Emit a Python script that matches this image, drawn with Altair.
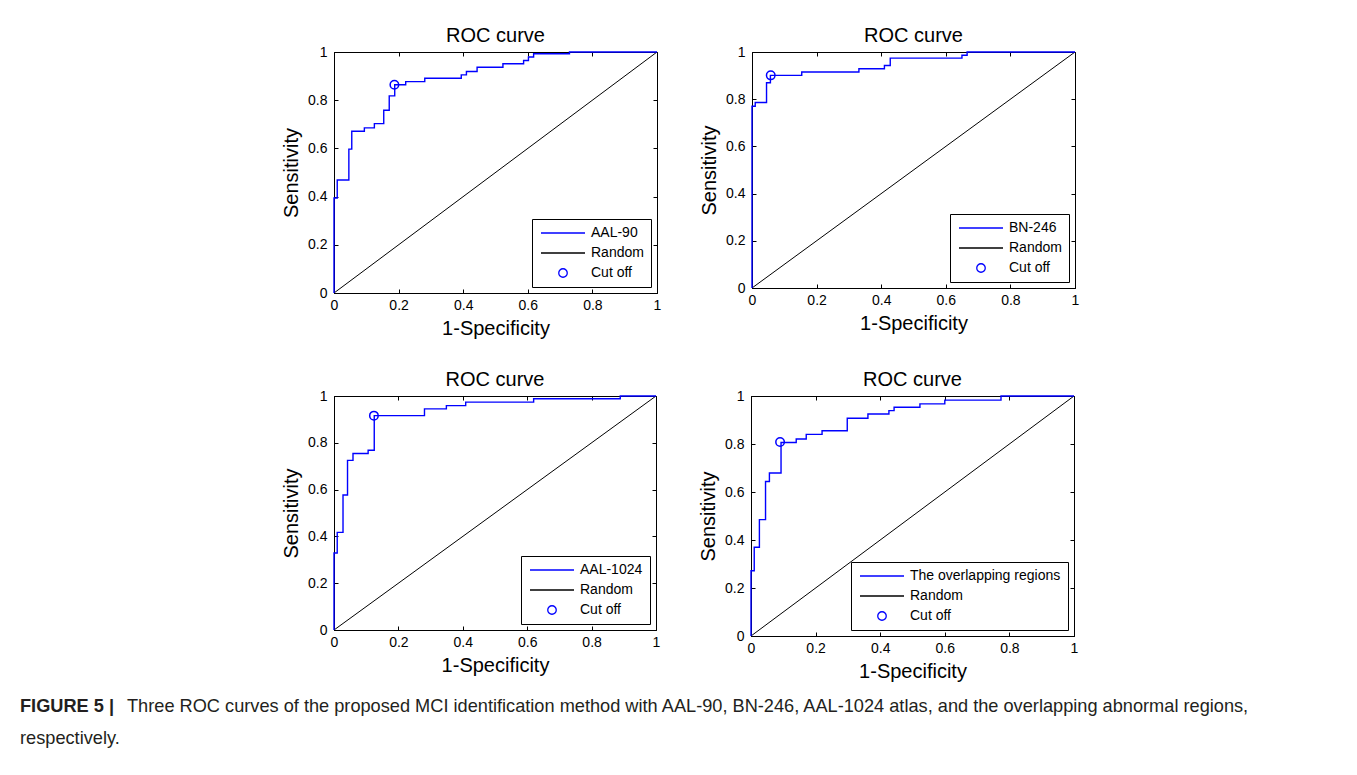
import altair as alt
import pandas as pd

# ---------------- data ----------------
TICKS = [0, 0.2, 0.4, 0.6, 0.8, 1]
RANDOM_X = [0, 1]
RANDOM_Y = [0, 1]
LEGEND_OTHER = ["Random", "Cut off"]
PANEL_TITLE = "ROC curve"
X_TITLE = "1-Specificity"
Y_TITLE = "Sensitivity"

AAL90_NAME = "AAL-90"
AAL90_FPR = [0, 0, 0.010, 0.046, 0.055, 0.094, 0.125, 0.154, 0.171, 0.188, 0.222,
             0.281, 0.394, 0.410, 0.443, 0.523, 0.587, 0.602, 0.618, 0.729, 1.0]
AAL90_TPR = [0, 0.394, 0.469, 0.597, 0.671, 0.685, 0.703, 0.758, 0.818, 0.864, 0.877,
             0.891, 0.905, 0.919, 0.937, 0.951, 0.965, 0.979, 0.993, 1.0, 1.0]
AAL90_CUT = [0.187, 0.864]

BN246_NAME = "BN-246"
BN246_FPR = [0, 0, 0.010, 0.045, 0.057, 0.154, 0.331, 0.410, 0.428, 0.650, 0.666, 1.0]
BN246_TPR = [0, 0.770, 0.786, 0.870, 0.901, 0.915, 0.929, 0.943, 0.974, 0.986, 1.0, 1.0]
BN246_CUT = [0.058, 0.901]

AAL1024_NAME = "AAL-1024"
AAL1024_FPR = [0, 0, 0.010, 0.028, 0.042, 0.059, 0.106, 0.125, 0.281, 0.349, 0.409,
               0.620, 0.889, 1.0]
AAL1024_TPR = [0, 0.329, 0.417, 0.577, 0.725, 0.754, 0.768, 0.916, 0.945, 0.959, 0.974,
               0.988, 1.0, 1.0]
AAL1024_CUT = [0.124, 0.916]

OVER_NAME = "The overlapping regions"
OVER_FPR = [0, 0, 0.010, 0.026, 0.045, 0.057, 0.093, 0.140, 0.171, 0.220, 0.298, 0.362,
            0.427, 0.443, 0.523, 0.600, 0.774, 1.0]
OVER_TPR = [0, 0.272, 0.370, 0.485, 0.644, 0.679, 0.806, 0.821, 0.840, 0.855, 0.907, 0.925,
            0.939, 0.953, 0.967, 0.983, 1.0, 1.0]
OVER_CUT = [0.090, 0.808]

CAPTION_BOLD = "FIGURE 5 |"
CAPTION_LINE1 = ("Three ROC curves of the proposed MCI identification method with AAL-90, "
                 "BN-246, AAL-1024 atlas, and the overlapping abnormal regions,")
CAPTION_LINE2 = "respectively."

# ---------------- style ----------------
FONT = "Liberation Sans, Arial, Helvetica, sans-serif"
BLUE = "#0000ff"
SYM = 100  # symbol scale factor 5 px per unit
LINE_SYM = "M-4.4,0L4.4,0"  # 44 px legend line sample
CIRCLE = "M-0.85,0A0.85,0.85,0,1,0,0.85,0A0.85,0.85,0,1,0,-0.85,0Z"  # ~8.5 px circle


def panel(name, fpr, tpr, cut, w, h):
    domain = [name] + LEGEND_OTHER
    color = alt.Color("series:N",
                      scale=alt.Scale(domain=domain, range=[BLUE, "black", BLUE]),
                      title=None)
    shape = alt.Shape("series:N",
                      scale=alt.Scale(domain=domain, range=[LINE_SYM, LINE_SYM, CIRCLE]),
                      title=None)
    x = alt.X("x:Q", scale=alt.Scale(domain=[0, 1], nice=False, zero=False),
              title=X_TITLE,
              axis=alt.Axis(values=TICKS, format=".1~f", gridDash=[4, h - 8],
                            labelPadding=5))
    y = alt.Y("y:Q", scale=alt.Scale(domain=[0, 1], nice=False, zero=False),
              title=Y_TITLE,
              axis=alt.Axis(values=TICKS, format=".1~f", gridDash=[4, w - 8],
                            labelPadding=7))

    curve_df = pd.DataFrame({"x": fpr, "y": tpr, "i": list(range(len(fpr)))})
    curve_df["series"] = name
    rand_df = pd.DataFrame({"x": RANDOM_X, "y": RANDOM_Y, "i": [0, 1]})
    rand_df["series"] = LEGEND_OTHER[0]
    cut_df = pd.DataFrame({"x": [cut[0]], "y": [cut[1]], "series": [LEGEND_OTHER[1]]})

    rnd = alt.Chart(rand_df).mark_line(strokeWidth=1).encode(
        x=x, y=y, color=color, order="i:Q")
    crv = alt.Chart(curve_df).mark_line(interpolate="step-after", strokeWidth=1.4).encode(
        x=x, y=y, color=color, order="i:Q")
    pt = alt.Chart(cut_df).mark_point(filled=False, size=SYM, strokeWidth=1.5,
                                      opacity=1).encode(
        x=x, y=y, color=color, shape=shape)
    return alt.layer(rnd, crv, pt).properties(
        width=w, height=h,
        title=alt.TitleParams(PANEL_TITLE, anchor="middle"))


def spacer(w):
    df = pd.DataFrame({"t": [""]})
    return alt.Chart(df).mark_text(opacity=0).encode(
        text="t:N", x=alt.value(0), y=alt.value(0)).properties(
        width=w, height=20, view=alt.ViewBackground(strokeOpacity=0))


def indep(c):
    return c.resolve_scale(color="independent", shape="independent").resolve_legend(
        color="independent", shape="independent")


p1 = panel(AAL90_NAME, AAL90_FPR, AAL90_TPR, AAL90_CUT, 323, 241)
p2 = panel(BN246_NAME, BN246_FPR, BN246_TPR, BN246_CUT, 323, 236)
p3 = panel(AAL1024_NAME, AAL1024_FPR, AAL1024_TPR, AAL1024_CUT, 322, 234)
p4 = panel(OVER_NAME, OVER_FPR, OVER_TPR, OVER_CUT, 323, 240)

row1 = indep(alt.hconcat(spacer(236), p1, p2, spacing=37))
row2 = indep(alt.hconcat(spacer(236), p3, p4, spacing=37))

cap_df = pd.DataFrame({"bold": [CAPTION_BOLD], "l1": [CAPTION_LINE1], "l2": [CAPTION_LINE2]})
cap_base = alt.Chart(cap_df)
CAP_SIZE = 18.2
cap = alt.layer(
    cap_base.mark_text(align="left", baseline="middle", fontSize=CAP_SIZE, font=FONT,
                       fontWeight="bold", color="#231f20").encode(
        text="bold:N", x=alt.value(12), y=alt.value(10)),
    cap_base.mark_text(align="left", baseline="middle", fontSize=CAP_SIZE, font=FONT,
                       color="#231f20").encode(
        text="l1:N", x=alt.value(119), y=alt.value(10)),
    cap_base.mark_text(align="left", baseline="middle", fontSize=CAP_SIZE, font=FONT,
                       color="#231f20").encode(
        text="l2:N", x=alt.value(12), y=alt.value(42)),
).properties(width=1338, height=55, view=alt.ViewBackground(strokeOpacity=0))

plots = indep(alt.vconcat(row1, row2, spacing=30))

chart = indep(alt.vconcat(plots, cap, spacing=15)).properties(
    padding={"left": 0, "top": 17, "right": 0, "bottom": 0},
    background="white"
).configure_view(
    stroke="black", strokeWidth=1
).configure_axis(
    domain=True, domainColor="black", domainWidth=1,
    ticks=False, tickSize=0,
    grid=True, gridColor="black", gridOpacity=1, gridWidth=1,
    labelFont=FONT, labelFontSize=14, labelColor="black", labelFlush=False,
    labelOverlap=False,
    titleFont=FONT, titleFontSize=20, titleFontWeight="normal", titleColor="black",
    titlePadding=6
).configure_title(
    font=FONT, fontSize=20, fontWeight="normal", color="black", offset=-1
).configure_legend(
    orient="bottom-right", offset=6,
    strokeColor="black", fillColor="white", padding=7, cornerRadius=0,
    labelFont=FONT, labelFontSize=14, labelColor="black",
    symbolSize=SYM, symbolStrokeWidth=1.3, symbolOffset=17, labelOffset=21,
    rowPadding=6
)

chart.save("out.html", embed_options={"renderer": "svg", "actions": False})
